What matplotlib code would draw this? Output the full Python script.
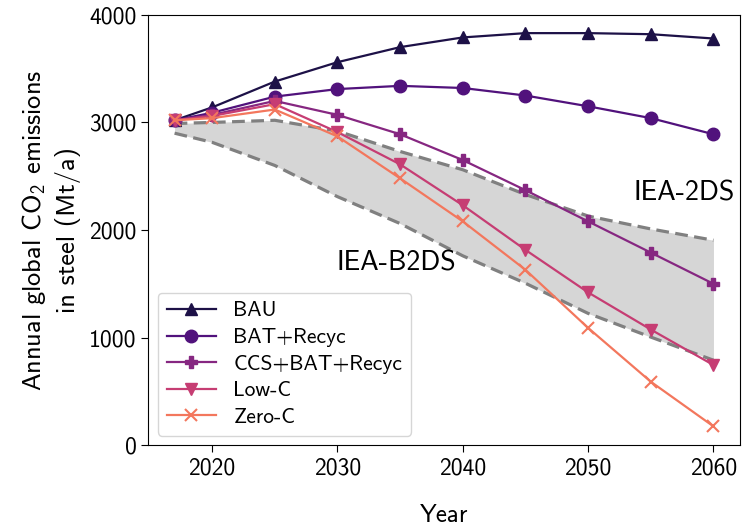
import matplotlib
matplotlib.use('Agg')
import matplotlib.pyplot as plt

plt.rcParams['font.family'] = ['cmss10', 'DejaVu Sans']
plt.rcParams['mathtext.fontset'] = 'custom'
plt.rcParams['mathtext.rm'] = 'cmss10'
plt.rcParams['mathtext.it'] = 'cmss10'
plt.rcParams['axes.unicode_minus'] = False
plt.rcParams['axes.formatter.use_mathtext'] = False

years = [2017, 2020, 2025, 2030, 2035, 2040, 2045, 2050, 2055, 2060]

bau = [3020, 3140, 3380, 3560, 3700, 3790, 3830, 3830, 3820, 3780]
bat_recyc = [3020, 3090, 3240, 3310, 3340, 3320, 3250, 3150, 3040, 2890]
ccs_bat_recyc = [3020, 3070, 3200, 3070, 2890, 2650, 2370, 2080, 1790, 1500]
low_c = [3020, 3060, 3170, 2910, 2610, 2230, 1815, 1420, 1075, 745]
zero_c = [3020, 3040, 3120, 2870, 2480, 2080, 1630, 1090, 590, 175]

iea_2ds = [2990, 3000, 3020, 2920, 2730, 2560, 2330, 2130, 2010, 1905]
iea_b2ds = [2900, 2815, 2600, 2310, 2060, 1760, 1505, 1225, 1005, 790]

series = [
    ('BAU', bau, '^'),
    ('BAT+Recyc', bat_recyc, 'o'),
    ('CCS+BAT+Recyc', ccs_bat_recyc, 'P'),
    ('Low-C', low_c, 'v'),
    ('Zero-C', zero_c, 'x'),
]
colors = ['#1d1147', '#51127c', '#862781', '#c63d73', '#f3775d']

fig = plt.figure(figsize=(7.45, 5.3), dpi=100)
ax = fig.add_axes([0.199, 0.160, 0.794, 0.812])

ax.fill_between(years, iea_b2ds, iea_2ds, color='#d6d6d6', zorder=1, linewidth=0)
ax.plot(years, iea_2ds, '--', color='#808080', lw=2.3, dashes=(4, 2), zorder=2)
ax.plot(years, iea_b2ds, '--', color='#808080', lw=2.3, dashes=(4, 2), zorder=2)

for (name, vals, mk), c in zip(series, colors):
    ax.plot(years, vals, marker=mk, color=c, lw=1.6, ms=9, label=name, zorder=3,
            mew=1.5 if mk == 'x' else 1)

ax.text(2061.7, 2344, 'IEA-2DS', fontsize=20, ha='right', va='center')
ax.text(2034.7, 1693, 'IEA-B2DS', fontsize=20, ha='center', va='center')

ax.set_xlim(2014.9, 2062.1)
ax.set_ylim(0, 4000)
ax.set_xticks([2020, 2030, 2040, 2050, 2060])
ax.set_yticks([0, 1000, 2000, 3000, 4000])
ax.tick_params(labelsize=17, length=5)
ax.set_xlabel('Year', fontsize=18, labelpad=18)
ax.set_ylabel('Annual global CO$_2$ emissions\nin steel (Mt/a)', fontsize=19,
              linespacing=1.35, labelpad=6)

leg = ax.legend(loc='lower left', fontsize=15.5, handlelength=2.3, labelspacing=0.35,
                borderaxespad=0.45, handletextpad=0.8)
leg.get_frame().set_edgecolor('#cccccc')

plt.savefig('out.png', dpi=100)
